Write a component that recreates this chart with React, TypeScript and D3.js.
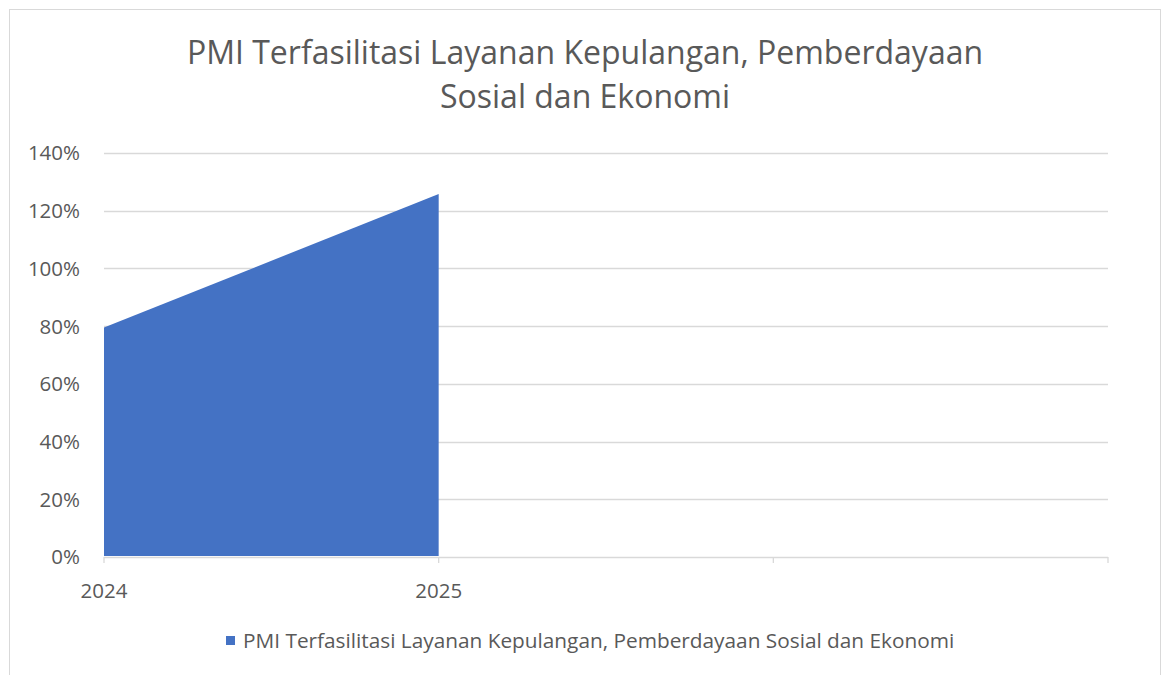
import { useEffect, useRef } from "react";
import * as d3 from "d3";

const W = 1170;
const H = 675;

const TITLE_LINES = ["PMI Terfasilitasi Layanan Kepulangan, Pemberdayaan", "Sosial dan Ekonomi"];
const SERIES_NAME = "PMI Terfasilitasi Layanan Kepulangan, Pemberdayaan Sosial dan Ekonomi";
// two trailing empty categories keep the axis width of the original sheet
const CATEGORIES = ["2024", "2025", "", " "];
const VALUES = [0.795, 1.258];
const Y_TICKS = [0, 0.2, 0.4, 0.6, 0.8, 1.0, 1.2, 1.4];

const PLOT = { left: 104, right: 1108, top: 153, bottom: 557 };
const FONT = "'Open Sans', sans-serif";
const TEXT = "#595959";
const GRID = "#d9d9d9";
const FILL = "#4472c4";
const LABEL_SIZE = 20.5;

export default function App() {
  const svgRef = useRef<SVGSVGElement | null>(null);

  useEffect(() => {
    const svg = d3.select(svgRef.current);
    svg.selectAll("*").remove();

    // chart frame
    svg
      .append("rect")
      .attr("x", 9.5)
      .attr("y", 9.5)
      .attr("width", 1151)
      .attr("height", H + 20)
      .attr("fill", "#fff")
      .attr("stroke", GRID);

    const x = d3.scalePoint<string>().domain(CATEGORIES).range([PLOT.left, PLOT.right]);
    const y = d3.scaleLinear().domain([0, 1.4]).range([PLOT.bottom, PLOT.top]);

    // title
    const title = svg
      .append("text")
      .attr("text-anchor", "middle")
      .attr("fill", TEXT)
      .attr("font-family", FONT)
      .attr("font-size", 32);
    TITLE_LINES.forEach((line, i) => {
      title
        .append("tspan")
        .attr("x", 585)
        .attr("y", 64 + i * 44)
        .text(line);
    });

    // gridlines + y labels
    Y_TICKS.forEach((t) => {
      if (t > 0) {
        svg
          .append("line")
          .attr("x1", PLOT.left)
          .attr("x2", PLOT.right)
          .attr("y1", Math.round(y(t)) + 0.5)
          .attr("y2", Math.round(y(t)) + 0.5)
          .attr("stroke", GRID)
          .attr("stroke-width", 1.3);
      }
      svg
        .append("text")
        .attr("x", 80)
        .attr("y", y(t))
        .attr("dy", "0.36em")
        .attr("text-anchor", "end")
        .attr("fill", TEXT)
        .attr("font-family", FONT)
        .attr("font-size", LABEL_SIZE)
        .text(d3.format(".0%")(t));
    });

    // area
    const area = d3
      .area<number>()
      .x((_, i) => x(CATEGORIES[i])!)
      .y0(y(0) - 1)
      .y1((d) => y(d));
    svg.append("path").datum(VALUES).attr("d", area).attr("fill", FILL);

    // x axis
    svg
      .append("line")
      .attr("x1", PLOT.left)
      .attr("x2", PLOT.right)
      .attr("y1", PLOT.bottom + 0.5)
      .attr("y2", PLOT.bottom + 0.5)
      .attr("stroke", GRID)
      .attr("stroke-width", 1.3);
    CATEGORIES.forEach((c) => {
      const cx = x(c)!;
      svg
        .append("line")
        .attr("x1", cx)
        .attr("x2", cx)
        .attr("y1", PLOT.bottom)
        .attr("y2", PLOT.bottom + 6)
        .attr("stroke", GRID)
        .attr("stroke-width", 1.3);
      if (c.trim()) {
        svg
          .append("text")
          .attr("x", cx)
          .attr("y", 598)
          .attr("text-anchor", "middle")
          .attr("fill", TEXT)
          .attr("font-family", FONT)
          .attr("font-size", LABEL_SIZE)
          .text(c);
      }
    });

    // legend
    svg
      .append("rect")
      .attr("x", 226)
      .attr("y", 636)
      .attr("width", 9)
      .attr("height", 9)
      .attr("fill", FILL);
    svg
      .append("text")
      .attr("x", 243)
      .attr("y", 648)
      .attr("fill", TEXT)
      .attr("font-family", FONT)
      .attr("font-size", 20.8)
      .text(SERIES_NAME);
  }, []);

  return (
    <svg
      ref={svgRef}
      width={W}
      height={H}
      viewBox={`0 0 ${W} ${H}`}
      style={{ position: "absolute", left: 0, top: 0, background: "#fff" }}
    />
  );
}
